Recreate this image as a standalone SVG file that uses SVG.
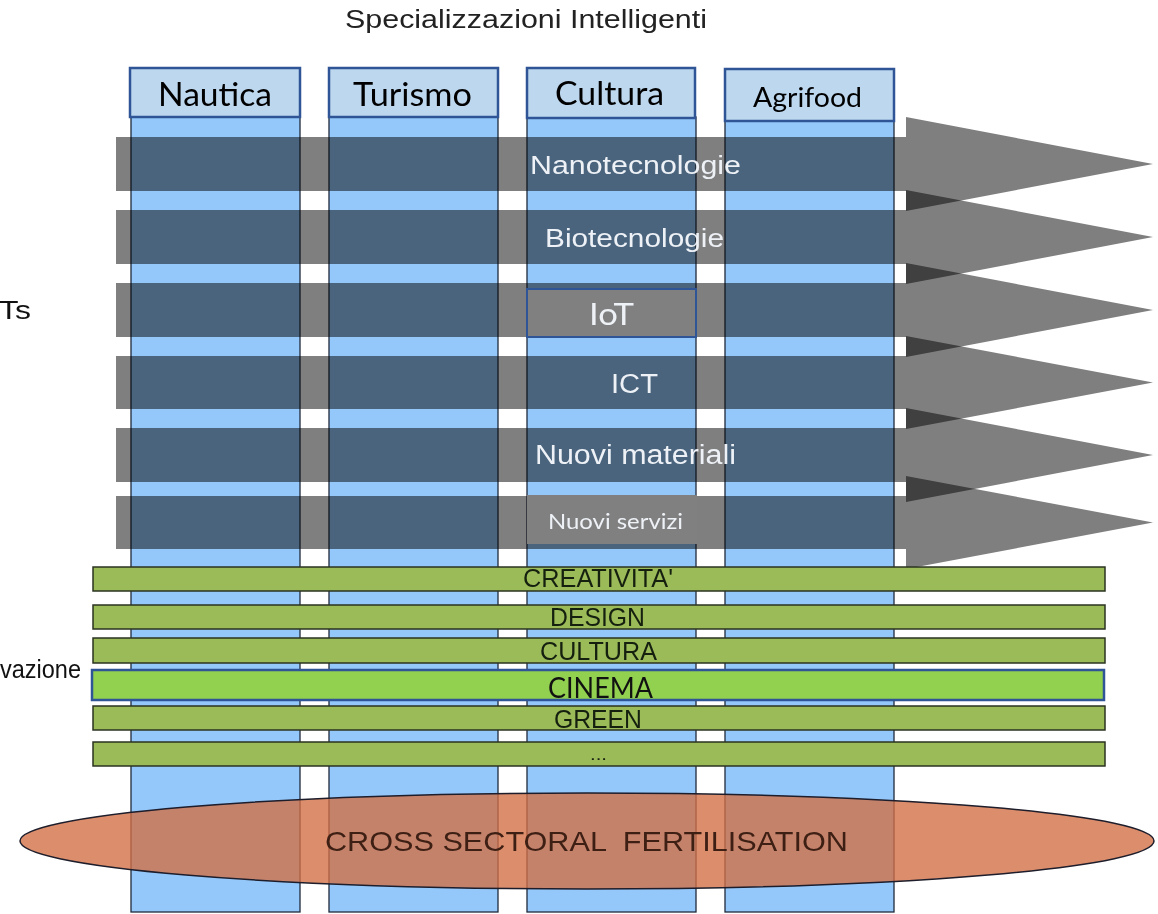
<svg xmlns="http://www.w3.org/2000/svg" width="1158" height="914" viewBox="0 0 1158 914">
<style>
.col{fill:#94c8fa;stroke:#1f2a3c;stroke-width:1.3}
.hdr{fill:#bdd7ee;stroke:#2f5597;stroke-width:2.5}
.band{fill:#7f7f7f;mix-blend-mode:multiply}
.gb{fill:#9bbb59;stroke:#2b3320;stroke-width:1.5}
.arial{font-family:'Liberation Sans',Arial,sans-serif}
.cal{font-family:Lato,'Open Sans',sans-serif}
.wt{fill:#eef2f7}
.dk{fill:#16200f}
</style>
<rect width="1158" height="914" fill="#ffffff"/>
<g id="columns">
<rect class="col" x="131" y="117" width="169" height="795"/>
<rect class="col" x="329" y="117" width="169" height="795"/>
<rect class="col" x="527" y="117" width="169" height="795"/>
<rect class="col" x="725" y="121" width="169" height="791"/>
</g>
<g id="connectors">
<polygon class="band" points="116,137 906,137 906,117 1153,164 906,211 906,191 116,191"/>
<polygon class="band" points="116,210 906,210 906,190 1153,237 906,284 906,264 116,264"/>
<polygon class="band" points="116,283 906,283 906,263 1153,310 906,357 906,337 116,337"/>
<polygon class="band" points="116,356 906,356 906,336 1153,382.5 906,429 906,409 116,409"/>
<polygon class="band" points="116,428 906,428 906,408 1153,455 906,502 906,482 116,482"/>
<polygon class="band" points="116,496 906,496 906,476 1153,522.5 906,569 906,549 116,549"/>
</g>
<g id="iot">
<rect x="527" y="289" width="169" height="48" fill="#808080" stroke="#2f5597" stroke-width="2"/>
<text class="cal wt" x="589" y="325" font-size="31" textLength="45" lengthAdjust="spacingAndGlyphs">IoT</text>
</g>
<g id="nuovi-servizi">
<rect x="527" y="495" width="170" height="49" fill="#808080"/>
<text class="cal wt" x="548" y="529" font-size="21" textLength="135" lengthAdjust="spacingAndGlyphs">Nuovi servizi</text>
</g>
<g id="nanotecnologie"><text class="arial wt" x="530" y="174" font-size="26" textLength="211" lengthAdjust="spacingAndGlyphs">Nanotecnologie</text></g>
<g id="biotecnologie"><text class="arial wt" x="545" y="247" font-size="26" textLength="179" lengthAdjust="spacingAndGlyphs">Biotecnologie</text></g>
<g id="ict"><text class="arial wt" x="611" y="393" font-size="27" textLength="47" lengthAdjust="spacingAndGlyphs">ICT</text></g>
<g id="nuovi-materiali"><text class="arial wt" x="535" y="464" font-size="27" textLength="201" lengthAdjust="spacingAndGlyphs">Nuovi materiali</text></g>
<g id="creativita">
<rect class="gb" x="93" y="567" width="1012" height="24"/>
<text class="arial dk" x="523" y="587" font-size="26" textLength="150" lengthAdjust="spacingAndGlyphs">CREATIVITA'</text>
</g>
<g id="design">
<rect class="gb" x="93" y="605" width="1012" height="24"/>
<text class="arial dk" x="550" y="626" font-size="26" textLength="95" lengthAdjust="spacingAndGlyphs">DESIGN</text>
</g>
<g id="cultura-band">
<rect class="gb" x="93" y="638" width="1012" height="25"/>
<text class="arial dk" x="540" y="660" font-size="26" textLength="117" lengthAdjust="spacingAndGlyphs">CULTURA</text>
</g>
<g id="cinema">
<rect x="92" y="670" width="1012" height="30" fill="#92d050" stroke="#2f5597" stroke-width="2.5"/>
<text class="cal" x="548" y="698" font-size="29" fill="#111" textLength="105" lengthAdjust="spacingAndGlyphs">CINEMA</text>
</g>
<g id="green">
<rect class="gb" x="93" y="706" width="1012" height="24"/>
<text class="arial dk" x="554" y="728" font-size="26" textLength="88" lengthAdjust="spacingAndGlyphs">GREEN</text>
</g>
<g id="more">
<rect class="gb" x="93" y="742" width="1012" height="24"/>
<text class="arial dk" x="590" y="760" font-size="16" textLength="17" lengthAdjust="spacingAndGlyphs">...</text>
</g>
<g id="cross-sectoral">
<ellipse cx="587" cy="841" rx="567" ry="48" fill="#d26e43" fill-opacity="0.78" stroke="#1d1d2b" stroke-width="1.5"/>
<text class="arial" x="325" y="851" font-size="28" fill="#3d1f14" textLength="523" lengthAdjust="spacingAndGlyphs" xml:space="preserve">CROSS SECTORAL  FERTILISATION</text>
</g>
<g id="nautica">
<rect class="hdr" x="130" y="68" width="170" height="49"/>
<text class="cal" x="158" y="106" font-size="32" fill="#000" textLength="114" lengthAdjust="spacingAndGlyphs">Nautica</text>
</g>
<g id="turismo">
<rect class="hdr" x="329" y="68" width="169" height="49"/>
<text class="cal" x="353" y="106" font-size="32" fill="#000" textLength="119" lengthAdjust="spacingAndGlyphs">Turismo</text>
</g>
<g id="cultura">
<rect class="hdr" x="527" y="68" width="168" height="50"/>
<text class="cal" x="555" y="105" font-size="32" fill="#000" textLength="109" lengthAdjust="spacingAndGlyphs">Cultura</text>
</g>
<g id="agrifood">
<rect class="hdr" x="725" y="69" width="169" height="52" stroke-width="3"/>
<text class="cal" x="753" y="107" font-size="26" fill="#000" textLength="109" lengthAdjust="spacingAndGlyphs">Agrifood</text>
</g>
<g id="labels">
<text class="arial" x="345" y="28" font-size="25" fill="#222" textLength="362" lengthAdjust="spacingAndGlyphs">Specializzazioni Intelligenti</text>
<text class="arial" x="-1" y="319" font-size="26" fill="#111" textLength="32" lengthAdjust="spacingAndGlyphs">Ts</text>
<text class="arial" x="0" y="678" font-size="25" fill="#111" textLength="81" lengthAdjust="spacingAndGlyphs">vazione</text>
</g>
</svg>
